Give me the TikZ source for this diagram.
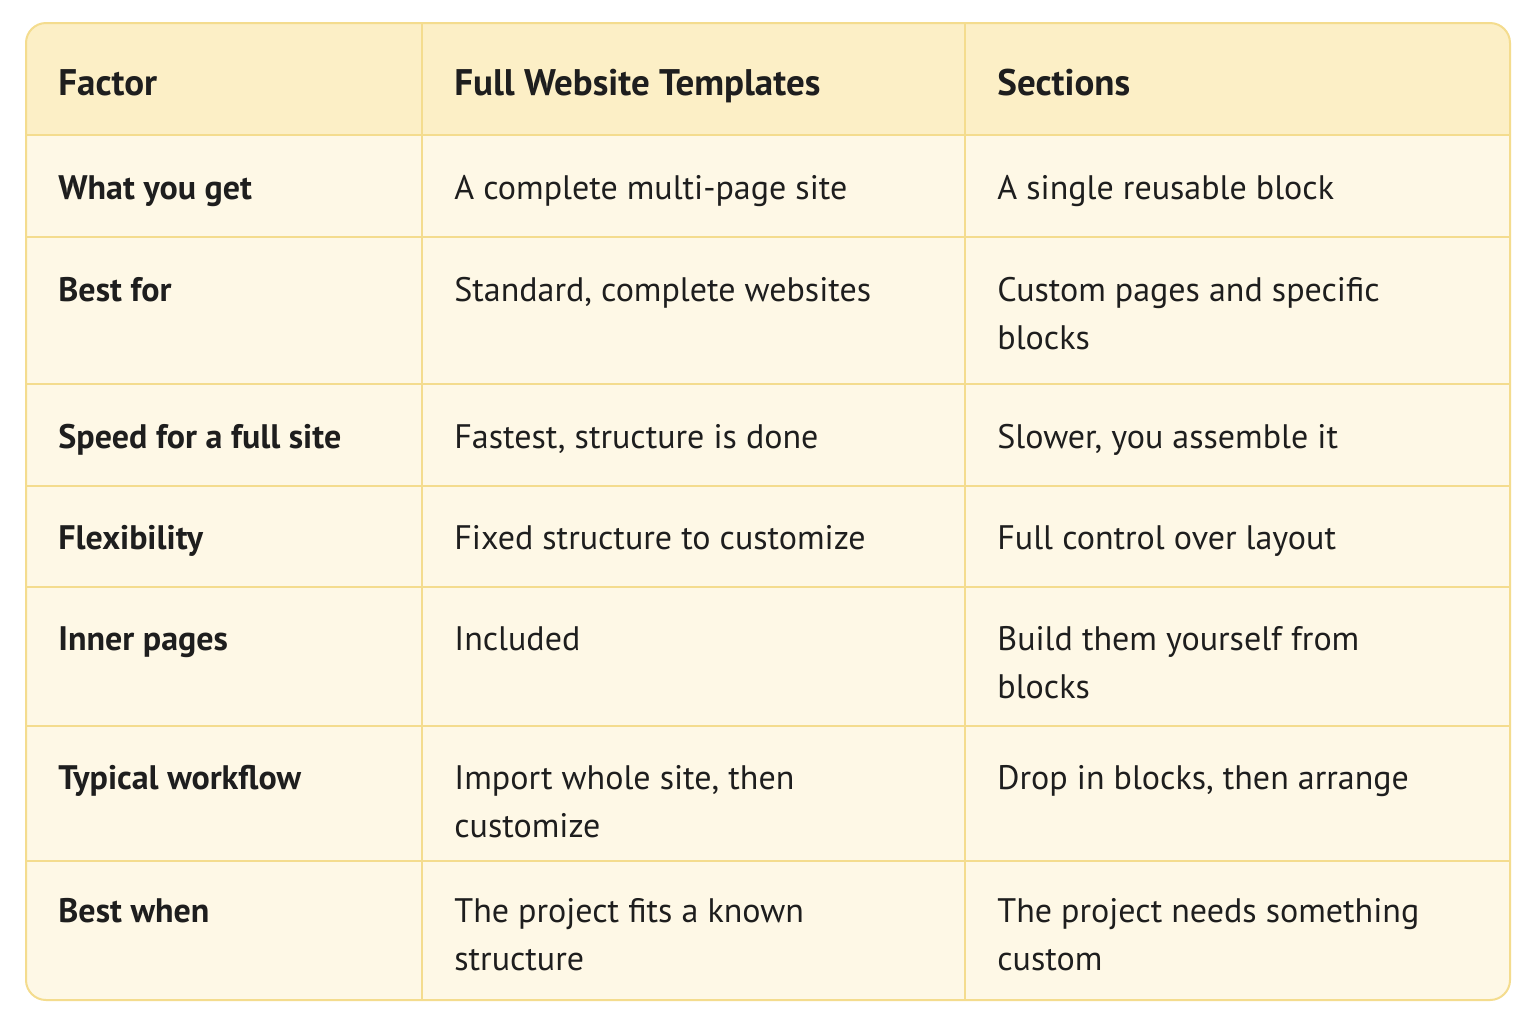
\documentclass[tikz,border=0pt]{standalone}
\usepackage{fontspec}
\setmainfont{PT Sans}
\usepackage{xcolor}
\usetikzlibrary{positioning}
\definecolor{headfill}{HTML}{FCEFC6}
\definecolor{bodyfill}{HTML}{FEF8E6}
\definecolor{gridline}{HTML}{F4DC8E}
\definecolor{ink}{HTML}{1E1E1E}

\begin{document}
\begin{tikzpicture}[x=0.5pt, y=-0.5pt,
    head/.style={anchor=base west, inner sep=0pt, font=\fontsize{18.5}{22}\selectfont\bfseries, text=ink},
    key/.style={anchor=base west, inner sep=0pt, font=\fontsize{17}{20}\selectfont\bfseries, text=ink},
    cell/.style={anchor=base west, inner sep=0pt, font=\fontsize{17}{20}\selectfont, text=ink},
    grid/.style={draw=gridline, line width=1pt}]
    \useasboundingbox (0, 0) rectangle (1536, 1024);
    \fill[white] (0, 0) rectangle (1536, 1024);

    % table body and header band
    \fill[bodyfill, rounded corners=10pt] (26, 23) rectangle (1510, 1000);
    \begin{scope}
      \clip[rounded corners=10pt] (26, 23) rectangle (1510, 1000);
      \fill[headfill] (26, 23) rectangle (1510, 135);
    \end{scope}

    % grid
    \draw[grid] (422, 23) -- (422, 1000);
    \draw[grid] (965, 23) -- (965, 1000);
    \draw[grid] (26, 135) -- (1510, 135);
    \draw[grid] (26, 237) -- (1510, 237);
    \draw[grid] (26, 384) -- (1510, 384);
    \draw[grid] (26, 486) -- (1510, 486);
    \draw[grid] (26, 587) -- (1510, 587);
    \draw[grid] (26, 726) -- (1510, 726);
    \draw[grid] (26, 861) -- (1510, 861);
    \draw[grid, rounded corners=10pt] (26, 23) rectangle (1510, 1000);

    % header
    \node[head] (h1) at (58, 95) {Factor};
    \node[head] (h2) at (454, 95) {Full Website Templates};
    \node[head] (h3) at (997, 95) {Sections};

    % rows
    \node[key] (r1c1) at (58, 199) {What you get};
    \node[cell] (r1c2) at (454, 199) {A complete multi-page site};
    \node[cell] (r1c3) at (997, 199) {A single reusable block};

    \node[key] (r2c1) at (58, 301) {Best for};
    \node[cell] (r2c2) at (454, 301) {Standard, complete websites};
    \node[cell] (r2c3) at (997, 301) {Custom pages and specific};
    \node[cell] (r2c3b) at (997, 349) {blocks};

    \node[key] (r3c1) at (58, 448) {Speed for a full site};
    \node[cell] (r3c2) at (454, 448) {Fastest, structure is done};
    \node[cell] (r3c3) at (997, 448) {Slower, you assemble it};

    \node[key] (r4c1) at (58, 549) {Flexibility};
    \node[cell] (r4c2) at (454, 549) {Fixed structure to customize};
    \node[cell] (r4c3) at (997, 549) {Full control over layout};

    \node[key] (r5c1) at (58, 650) {Inner pages};
    \node[cell] (r5c2) at (454, 650) {Included};
    \node[cell] (r5c3) at (997, 650) {Build them yourself from};
    \node[cell] (r5c3b) at (997, 698) {blocks};

    \node[key] (r6c1) at (58, 789) {Typical workflow};
    \node[cell] (r6c2) at (454, 789) {Import whole site, then};
    \node[cell] (r6c2b) at (454, 837) {customize};
    \node[cell] (r6c3) at (997, 789) {Drop in blocks, then arrange};

    \node[key] (r7c1) at (58, 922) {Best when};
    \node[cell] (r7c2) at (454, 922) {The project fits a known};
    \node[cell] (r7c2b) at (454, 970) {structure};
    \node[cell] (r7c3) at (997, 922) {The project needs something};
    \node[cell] (r7c3b) at (997, 970) {custom};
\end{tikzpicture}
\end{document}
